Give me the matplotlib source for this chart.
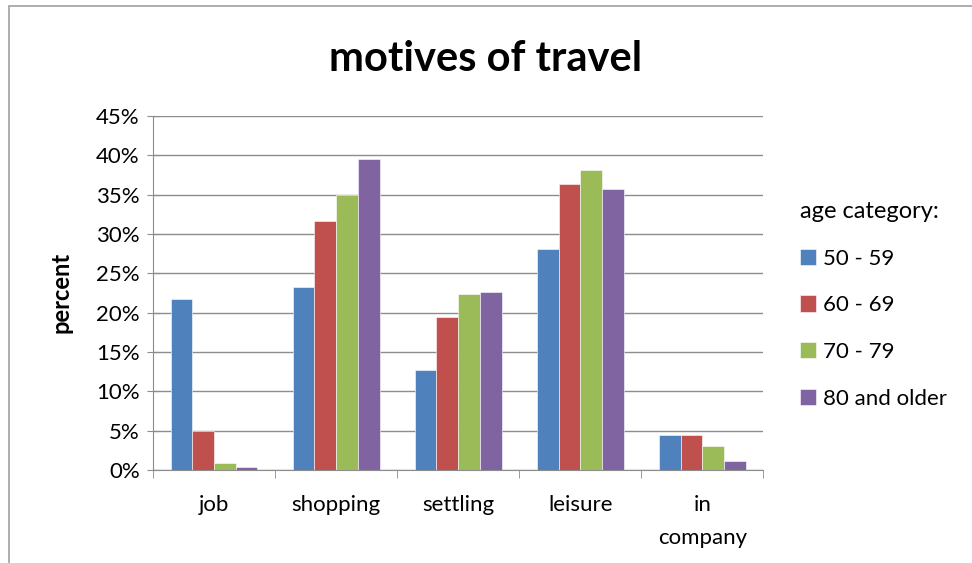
import numpy as np
import matplotlib.pyplot as plt
from matplotlib.patches import Rectangle
from matplotlib.ticker import FixedLocator, PercentFormatter

plt.rcParams['font.family'] = ['Lato', 'DejaVu Sans']

# Data (percent)
categories = ['job', 'shopping', 'settling', 'leisure', 'in\ncompany']
age_groups = ['50 - 59', '60 - 69', '70 - 79', '80 and older']
v50 = [21.7, 23.3, 12.7, 28.1, 4.5]
v60 = [5.0, 31.6, 19.5, 36.4, 4.4]
v70 = [0.9, 35.0, 22.4, 38.1, 3.0]
v80 = [0.4, 39.5, 22.6, 35.7, 1.2]
colors = ['#4F81BD', '#C0504D', '#9BBB59', '#8064A2']

fig = plt.figure(figsize=(9.72, 5.63), dpi=100)
ax = fig.add_axes([0.1574, 0.1652, 0.628, 0.629])

# chart frame
fig.patches.append(Rectangle((9/972, -0.1), 1.2, (563-6)/563 + 0.1, transform=fig.transFigure,
                             fill=False, edgecolor='#a0a0a0', lw=1.2))

x = np.arange(len(categories))
w = 0.178
series = [v50, v60, v70, v80]
for i, vals in enumerate(series):
    ax.bar(x + (i - 1.5) * w, vals, w, color=colors[i], label=age_groups[i],
           edgecolor='white', linewidth=0.4, zorder=3)

ax.set_xlim(-0.5, len(categories) - 0.5)
ax.set_ylim(0, 45)
ax.set_yticks(np.arange(0, 46, 5))
ax.yaxis.set_major_formatter(PercentFormatter(decimals=0))
ax.grid(axis='y', color='#8c8c8c', lw=1, zorder=0)

ax.set_xticks(x)
ax.set_xticklabels(categories, fontsize=16, linespacing=1.8, va='top')
ax.xaxis.set_minor_locator(FixedLocator(np.arange(-0.5, len(categories), 1)))
ax.tick_params(axis='x', which='major', length=0, pad=18)
ax.tick_params(axis='x', which='minor', length=6, color='#8c8c8c', direction='out')
ax.tick_params(axis='y', length=9, color='#8c8c8c', direction='inout', labelsize=16, pad=5)

for s in ['top', 'right']:
    ax.spines[s].set_visible(False)
for s in ['left', 'bottom']:
    ax.spines[s].set_color('#8c8c8c')

ax.set_ylabel('percent', fontsize=17, fontweight='bold', labelpad=17)
fig.text(0.5, 0.895, 'motives of travel', fontsize=30, fontweight='bold',
         ha='center', va='center')

leg = ax.legend(loc='upper left', bbox_to_anchor=(1.045, 0.785), frameon=False,
                title='age category:', title_fontsize=17, fontsize=16,
                handlelength=0.75, handleheight=0.75, handletextpad=0.3,
                labelspacing=1.2, borderaxespad=0)
leg._legend_box.align = 'left'

fig.savefig('out.png', dpi=100)
